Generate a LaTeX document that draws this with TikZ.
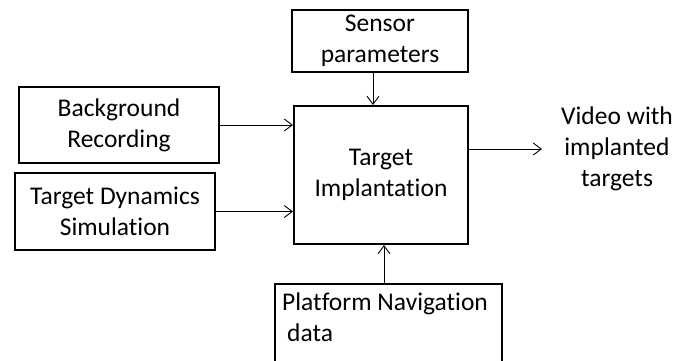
\documentclass[tikz,border=0pt]{standalone}
\usepackage{fontspec}
\setmainfont{Carlito}[Ligatures={NoCommon}]
\usetikzlibrary{arrows.meta}
\begin{document}
\begin{tikzpicture}[x=1pt,y=-1pt,
  box/.style={draw, line width=2pt, inner sep=0pt, align=center,
    font=\fontsize{25.5}{31}\selectfont},
  arr/.style={line width=0.9pt, -{Straight Barb[length=8pt,width=12pt,line width=0.9pt]}},
  lbl/.style={inner sep=0pt, align=center, font=\fontsize{25.5}{31}\selectfont}]
\useasboundingbox (0,0) rectangle (693,360);
\clip (0,0) rectangle (693,360);
\node[box, minimum width=176pt, minimum height=62pt] (sensor) at (380,41) {Sensor\\parameters};
\node[box, minimum width=200pt, minimum height=76pt] (bg) at (119,125) {Background\\Recording};
\node[box, minimum width=200pt, minimum height=77pt] (td) at (115,211.5) {Target Dynamics\\Simulation};
\node[box, minimum width=174pt, minimum height=138pt] (impl) at (381,175) {\raisebox{6pt}{\begin{tabular}{@{}c@{}}Target\\Implantation\end{tabular}}};
\node[box, minimum width=227pt, minimum height=130pt, anchor=north west] (plat) at (274,283) {};
\node[lbl, align=left, anchor=north west] (plattext) at (282,293) {Platform Navigation\\\hspace{5pt}data};
\node[lbl] (video) at (617,149) {Video with\\implanted\\targets};
\coordinate (outend) at (542,149);
\draw[arr] ([xshift=-7pt]sensor.south) -- ([xshift=-8pt]impl.north);
\draw[arr] (bg.east) -- (bg.east -| impl.west);
\draw[arr] (td.east) -- (td.east -| impl.west);
\draw[arr] ([xshift=3pt]impl.south |- plat.north) -- ([xshift=3pt]impl.south);
\draw[arr] ([yshift=26pt]impl.east) -- (outend);
\end{tikzpicture}
\end{document}
